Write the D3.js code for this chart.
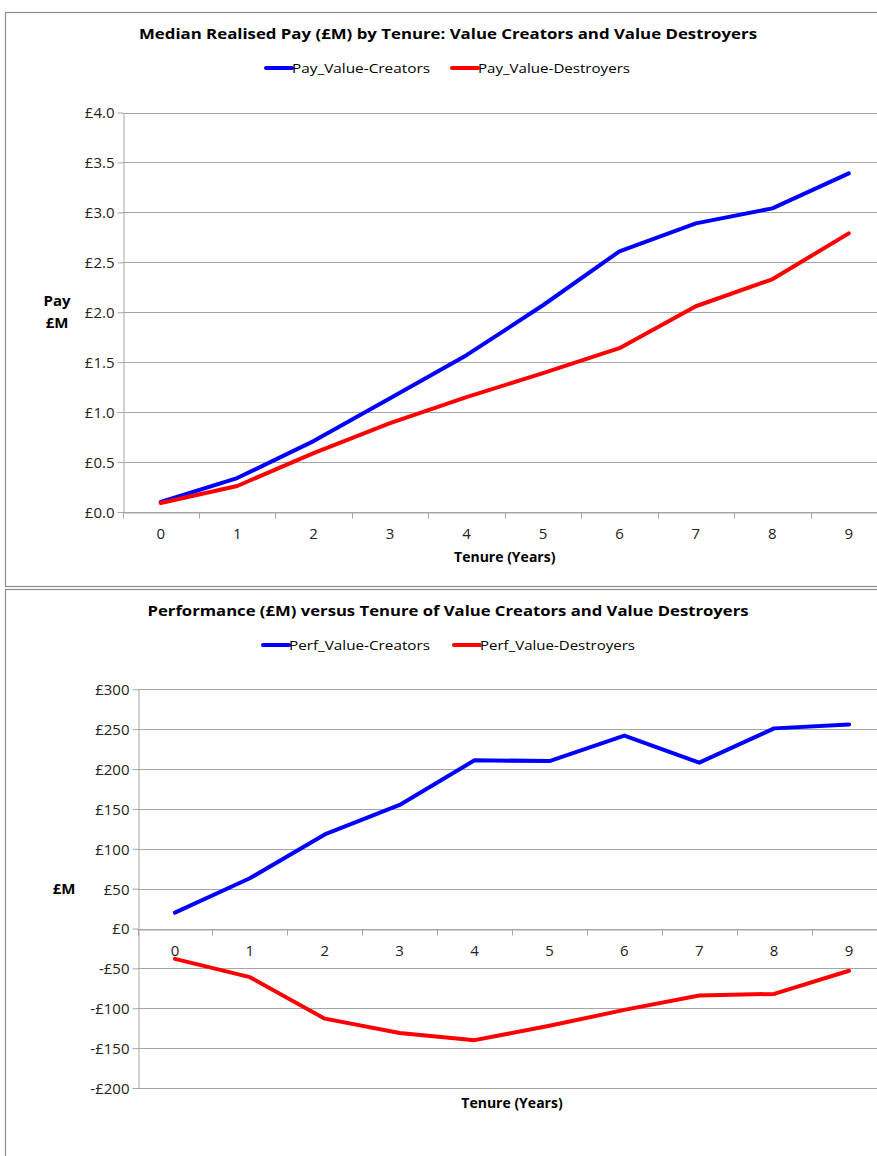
<!DOCTYPE html>
<html>
<head>
<meta charset="utf-8">
<script src="https://cdn.jsdelivr.net/npm/d3@7"></script>
<style>
  body { margin: 0; background: #fff; }
  svg { display: block; font-family: "Open Sans", "Liberation Sans", sans-serif; }
</style>
</head>
<body>
<div class="charts"></div>
<script>
const tenure = [0, 1, 2, 3, 4, 5, 6, 7, 8, 9]

const payCreators = [0.10, 0.34, 0.71, 1.14, 1.57, 2.07, 2.61, 2.89, 3.04, 3.39]
const payDestroyers = [0.09, 0.26, 0.59, 0.89, 1.15, 1.39, 1.64, 2.06, 2.33, 2.79]
const payTicks = [0, 0.5, 1.0, 1.5, 2.0, 2.5, 3.0, 3.5, 4.0]

const perfCreators = [20, 63, 118, 155, 211, 210, 242, 208, 251, 256]
const perfDestroyers = [-38, -61, -113, -131, -140, -122, -102, -84, -82, -53]
const perfTicks = [-200, -150, -100, -50, 0, 50, 100, 150, 200, 250, 300]

const width = 877
const height = 1156

const svg = d3.select(".charts").append("svg").attr("width", width).attr("height", height).attr("viewBox", `0 0 ${width} ${height}`)

const drawChart = (opts) => {
  const { frame, plot, title, titleY, titleLen, legend, legendY, series, ticks, yDomain, tickFmt, yTitle, xTitleY, zeroAxis } = opts

  // frame around chart
  svg.append("rect")
    .attr("x", frame.x + 0.5).attr("y", frame.y + 0.5)
    .attr("width", frame.w).attr("height", frame.h)
    .attr("fill", "none").attr("stroke", "#8c8c8c").attr("stroke-width", 1.2)

  const xScale = d3.scaleBand().domain(tenure).range([plot.left, plot.right])
  const yScale = d3.scaleLinear().domain(yDomain).range([plot.bottom, plot.top])
  const xc = d => xScale(d) + xScale.bandwidth() / 2

  // title
  svg.append("text")
    .attr("x", 448).attr("y", titleY)
    .attr("text-anchor", "middle")
    .attr("font-size", 15).attr("font-weight", "bold").attr("fill", "#000")
    .attr("textLength", titleLen).attr("lengthAdjust", "spacingAndGlyphs")
    .text(title)

  // legend
  legend.forEach(l => {
    svg.append("line")
      .attr("x1", l.x).attr("x2", l.x + 26).attr("y1", legendY).attr("y2", legendY)
      .attr("stroke", l.color).attr("stroke-width", 4).attr("stroke-linecap", "round")
    svg.append("text")
      .attr("x", l.x + 26).attr("y", legendY + 5)
      .attr("font-size", 13).attr("fill", "#000")
      .attr("textLength", l.len).attr("lengthAdjust", "spacingAndGlyphs")
      .text(l.name)
  })

  const graph = svg.append("g")

  // gridlines
  graph.selectAll(".grid").data(ticks).enter().append("line")
    .attr("x1", plot.left).attr("x2", plot.right)
    .attr("y1", d => Math.round(yScale(d)) + 0.5).attr("y2", d => Math.round(yScale(d)) + 0.5)
    .attr("stroke", "#a6a6a6").attr("stroke-width", 1)

  // y axis
  const yAxis = d3.axisLeft(yScale).tickValues(ticks).tickSize(6).tickSizeOuter(0).tickFormat(tickFmt)
  const yAxisGroup = graph.append("g").attr("transform", `translate(${Math.round(plot.left) + 0.5},0)`).call(yAxis)
  yAxisGroup.attr("font-size", null).attr("font-family", null)
  yAxisGroup.select(".domain").attr("stroke", "#a6a6a6")
  yAxisGroup.selectAll(".tick line").attr("stroke", "#a6a6a6")
  yAxisGroup.selectAll(".tick text").style("font-size", "15px").attr("fill", "#222").attr("x", -9).attr("dy", "0.36em")

  // x axis at zero
  const axisY = Math.round(yScale(zeroAxis)) + 0.5
  const xAxis = d3.axisBottom(xScale).tickSize(0).tickSizeOuter(0)
  const xAxisGroup = graph.append("g").attr("transform", `translate(0,${axisY})`).call(xAxis)
  xAxisGroup.attr("font-size", null).attr("font-family", null)
  xAxisGroup.select(".domain").attr("stroke", "#a6a6a6")
  xAxisGroup.selectAll(".tick text").style("font-size", "15px").attr("fill", "#222").attr("dy", "0").attr("y", 26)
  // tick marks between categories
  const bounds = tenure.map(d => xScale(d)).concat([plot.right])
  graph.selectAll(".xtick").data(bounds).enter().append("line")
    .attr("x1", d => Math.round(d) + 0.5).attr("x2", d => Math.round(d) + 0.5)
    .attr("y1", axisY).attr("y2", axisY + 6)
    .attr("stroke", "#a6a6a6")

  // lines
  const line = d3.line().x((d, i) => xc(tenure[i])).y(d => yScale(d))
  series.forEach(s => {
    graph.append("path")
      .datum(s.values)
      .attr("d", line)
      .attr("fill", "none")
      .attr("stroke", s.color)
      .attr("stroke-width", 4)
      .attr("stroke-linecap", "round")
      .attr("stroke-linejoin", "round")
  })

  // axis titles
  svg.append("text")
    .attr("x", (plot.left + plot.right) / 2).attr("y", xTitleY)
    .attr("text-anchor", "middle").attr("font-size", 14).attr("font-weight", "bold")
    .text("Tenure (Years)")

  const yt = svg.append("text").attr("text-anchor", "middle").attr("font-size", 15).attr("font-weight", "bold")
  yTitle.lines.forEach((t, i) => {
    yt.append("tspan").attr("x", yTitle.x).attr("y", yTitle.y + i * 22).text(t)
  })
}

drawChart({
  frame: { x: 5, y: 12, w: 900, h: 574 },
  plot: { left: 122.5, right: 887, top: 112.5, bottom: 512 },
  title: "Median Realised Pay (£M) by Tenure: Value Creators and Value Destroyers",
  titleY: 39, titleLen: 618,
  legend: [
    { name: "Pay_Value-Creators", color: "#0000ff", x: 266, len: 138 },
    { name: "Pay_Value-Destroyers", color: "#ff0000", x: 452, len: 152 }
  ],
  legendY: 68,
  series: [
    { values: payCreators, color: "#0000ff" },
    { values: payDestroyers, color: "#ff0000" }
  ],
  ticks: payTicks,
  yDomain: [0, 4],
  tickFmt: d => `£${d.toFixed(1)}`,
  yTitle: { x: 57, y: 306, lines: ["Pay", "£M"] },
  xTitleY: 562,
  zeroAxis: 0
})

drawChart({
  frame: { x: 5, y: 589, w: 900, h: 600 },
  plot: { left: 137.5, right: 886.5, top: 689.3, bottom: 1088 },
  title: "Performance (£M) versus Tenure of Value Creators and Value Destroyers",
  titleY: 616, titleLen: 601,
  legend: [
    { name: "Perf_Value-Creators", color: "#0000ff", x: 263, len: 141 },
    { name: "Perf_Value-Destroyers", color: "#ff0000", x: 454, len: 155 }
  ],
  legendY: 645,
  series: [
    { values: perfCreators, color: "#0000ff" },
    { values: perfDestroyers, color: "#ff0000" }
  ],
  ticks: perfTicks,
  yDomain: [-200, 300],
  tickFmt: d => d < 0 ? `-£${-d}` : `£${d}`,
  yTitle: { x: 64, y: 894, lines: ["£M"] },
  xTitleY: 1108,
  zeroAxis: 0
})
</script>
</body>
</html>
